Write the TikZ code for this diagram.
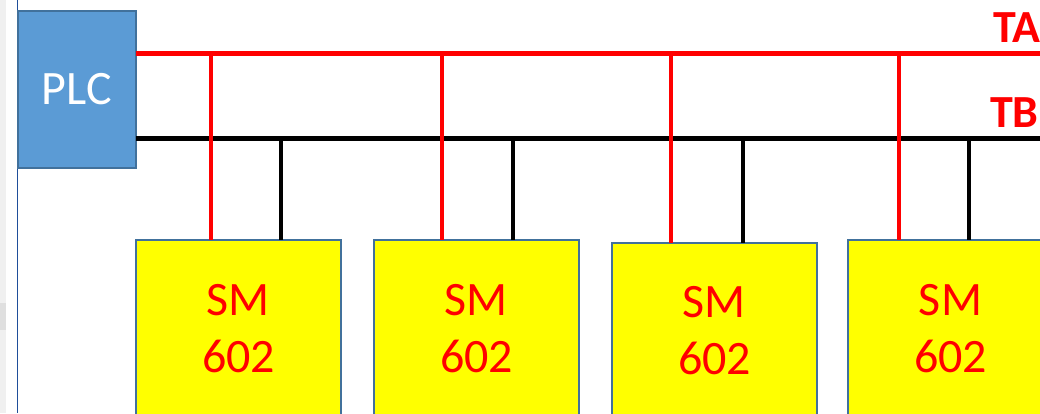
\documentclass[tikz,border=0pt]{standalone}
\usepackage{fontspec}
\setmainfont{Carlito}
\definecolor{plcblue}{HTML}{5B9BD5}
\definecolor{boxedge}{HTML}{41719C}
\definecolor{sideblue}{HTML}{1F4E9A}
\definecolor{smyellow}{HTML}{FFFF00}
\definecolor{busred}{HTML}{FF0000}
\begin{document}
\begin{tikzpicture}[x=1pt,y=-1pt,
  bus/.style={line width=4.5pt},
  plcbox/.style={draw=boxedge,fill=plcblue,line width=2pt,minimum width=118pt,minimum height=157pt,
    inner sep=0pt,outer sep=0pt,text=white,font=\fontsize{48}{57}\selectfont},
  smbox/.style={draw=boxedge,fill=smyellow,line width=2pt,minimum width=205pt,minimum height=177pt,
    inner sep=0pt,outer sep=0pt,text=busred,align=center,font=\fontsize{48}{57}\selectfont},
  buslabel/.style={anchor=base west,inner sep=0pt,text=busred,font=\bfseries\fontsize{46}{46}\selectfont}]
\useasboundingbox (0,0) rectangle (1040,413);
\clip (0,0) rectangle (1040,413);
\fill[gray!12] (0,0) rectangle (6,413);
\fill[gray!25] (0,303) rectangle (6,330);
\draw[line width=1.5pt, color=sideblue] (17.5,0) -- (17.5,413);
\node[plcbox] (plc) at (77,89.5) {PLC};
\node[smbox] (sm1) at (238.5,328.5) {SM\\602};
\node[smbox] (sm2) at (476.5,328.5) {SM\\602};
\node[smbox] (sm3) at (714.5,331) {SM\\602};
\node[smbox] (sm4) at (950.5,328.5) {SM\\602};
\coordinate (taend) at (1040,53.5);
\coordinate (tbend) at (1040,138.5);
\draw[bus] (plc.east |- tbend) -- (tbend);
\draw[bus,busred] (plc.east |- taend) -- (taend);
\node[buslabel] (ta) at (993,42) {TA};
\node[buslabel] (tb) at (990,127) {TB};
\foreach \s/\xa/\xb in {sm1/211/281, sm2/442/513, sm3/671/743, sm4/899/969} {
  \coordinate (\s-ta) at (\xa,53.5);
  \coordinate (\s-tb) at (\xb,138.5);
  \draw[bus] (\s-tb) -- (\s-tb |- \s.north);
  \draw[bus,busred] (\s-ta) -- (\s-ta |- \s.north);
}
\end{tikzpicture}
\end{document}
